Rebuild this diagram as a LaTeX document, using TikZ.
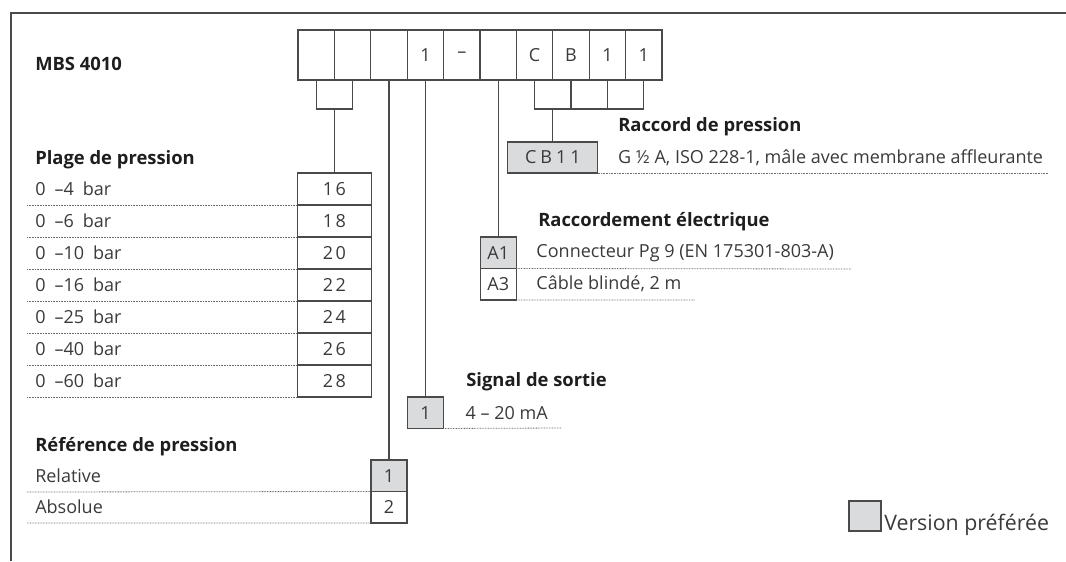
\documentclass[tikz,border=0pt]{standalone}
\usepackage{fontspec}
\setmainfont{Open Sans}
\usetikzlibrary{positioning,calc}
\definecolor{linecol}{HTML}{4A4A4A}
\definecolor{txtgray}{HTML}{3A3A3A}
\definecolor{headcol}{HTML}{1E1E1E}
\definecolor{prefcol}{HTML}{DADBDD}
\definecolor{rulecol}{HTML}{6A6A6A}

\begin{document}
\begin{tikzpicture}[
    x=0.75pt, y=-0.75pt,
    every node/.style={font=\fontsize{13.5}{16}\selectfont, text=txtgray},
    heading/.style={anchor=west, inner sep=0pt, font=\fontsize{13.8}{16}\selectfont\bfseries, text=headcol},
    optext/.style={anchor=west, inner sep=0pt},
    codebox/.style={rectangle, draw=linecol, line width=0.9pt, minimum width=27.3pt, minimum height=37.5pt, inner sep=0pt, outer sep=0pt},
    subbox/.style={rectangle, draw=linecol, line width=0.9pt, minimum width=27.2pt, minimum height=21.75pt, inner sep=0pt, outer sep=0pt},
    valbox/.style={rectangle, draw=linecol, line width=0.9pt, minimum width=55.5pt, minimum height=24pt, inner sep=0pt, outer sep=0pt},
    keybox/.style={rectangle, draw=linecol, line width=0.9pt, minimum width=27pt, minimum height=23.6pt, inner sep=0pt, outer sep=0pt},
    widebox/.style={keybox, minimum width=67.5pt, minimum height=23.25pt},
    pref/.style={fill=prefcol},
    link/.style={draw=linecol, line width=0.9pt},
    rule/.style={draw=rulecol, line width=0.6pt, dash pattern=on 0.6pt off 0.6pt},
    frame/.style={draw=linecol, line width=1.1pt}
]
    \useasboundingbox (0,0) rectangle (1066,561);
    \draw[frame] (11,561) -- (11,13) -- (1066,13);

    % type code
    \node[heading] (model) at (35,64) {MBS 4010};
    \node[codebox] (c1) at (316.2,55) {};
    \node[codebox, right=0pt of c1] (c2) {};
    \node[codebox, right=0pt of c2] (c3) {};
    \node[codebox, right=0pt of c3] (c4) {1};
    \node[codebox, right=0pt of c4] (c5) {–};
    \node[codebox, right=0pt of c5] (c6) {};
    \node[codebox, right=0pt of c6] (c7) {C};
    \node[codebox, right=0pt of c7] (c8) {B};
    \node[codebox, right=0pt of c8] (c9) {1};
    \node[codebox, right=0pt of c9] (c10) {1};

    \node[subbox, below=0pt of c1.south east] (s1) {};
    \node[subbox, below=0pt of c7.south east] (t1) {};
    \node[subbox, right=0pt of t1] (t2) {};
    \node[subbox, right=0pt of t2] (t3) {};

    % pressure range
    \node[heading] (rangehead) at (35,160) {Plage de pression};
    \node[valbox, below=48pt of s1] (pv1) {1\hspace{2pt}6};
    \node[valbox, below=0pt of pv1] (pv2) {1\hspace{2pt}8};
    \node[valbox, below=0pt of pv2] (pv3) {2\hspace{2pt}0};
    \node[valbox, below=0pt of pv3] (pv4) {2\hspace{2pt}2};
    \node[valbox, below=0pt of pv4] (pv5) {2\hspace{2pt}4};
    \node[valbox, below=0pt of pv5] (pv6) {2\hspace{2pt}6};
    \node[valbox, below=0pt of pv6] (pv7) {2\hspace{2pt}8};
    \node[optext] (pl1) at (35,189) {0\enspace–4\enspace bar};
    \node[optext] (pl2) at (35,221) {0\enspace–6\enspace bar};
    \node[optext] (pl3) at (35,253) {0\enspace–10\enspace bar};
    \node[optext] (pl4) at (35,285) {0\enspace–16\enspace bar};
    \node[optext] (pl5) at (35,317) {0\enspace–25\enspace bar};
    \node[optext] (pl6) at (35,349) {0\enspace–40\enspace bar};
    \node[optext] (pl7) at (35,381) {0\enspace–60\enspace bar};
    \draw[rule] (27,205) -- (pv1.south west);
    \draw[rule] (27,237) -- (pv2.south west);
    \draw[rule] (27,269) -- (pv3.south west);
    \draw[rule] (27,301) -- (pv4.south west);
    \draw[rule] (27,333) -- (pv5.south west);
    \draw[rule] (27,365) -- (pv6.south west);
    \draw[rule] (27,397) -- (pv7.south west);

    % pressure reference
    \node[heading] (refhead) at (35,447) {Référence de pression};
    \node[keybox, pref, below=285pt of c3] (ref1) {1};
    \node[keybox, below=0pt of ref1] (ref2) {2};
    \node[optext] (rl1) at (35,476) {Relative};
    \node[optext] (rl2) at (35,507) {Absolue};
    \draw[rule] (27,492) -- (ref1.south west);
    \draw[rule] (27,523) -- (ref2.south west);

    % output signal
    \node[keybox, pref, below=237.75pt of c4] (sig) {1};
    \node[optext, right=16.5pt of sig] (sigtxt) {4 – 20 mA};
    \node[heading] (sighead) at (466,382) {Signal de sortie};
    \draw[rule] (sig.south east) -- (561,428);

    % electrical connection
    \node[keybox, pref, below=117.75pt of c6] (ka1) {A1};
    \node[keybox, below=0pt of ka1] (ka3) {A3};
    \node[optext, right=15pt of ka1] (katxt1) {Connecteur Pg 9 (EN 175301-803-A)};
    \node[optext, right=15pt of ka3] (katxt3) {Câble blindé, 2 m};
    \node[heading] (elhead) at (538,222) {Raccordement électrique};
    \draw[rule] (ka1.south east) -- (852,269);
    \draw[rule] (ka3.south east) -- (695,300);

    % process connection
    \node[widebox, pref, below=24.75pt of t1] (cb) {C\hspace{3pt}B\hspace{3pt}1\hspace{3pt}1};
    \node[optext, right=15pt of cb] (cbtxt) {G ½ A, ISO 228-1, mâle avec membrane affleurante};
    \node[heading] (cbhead) at (618,127) {Raccord de pression};
    \draw[rule] (cb.south east) -- (1048,173);

    % connectors
    \draw[link] (s1) -- (pv1);
    \draw[link] (c3) -- (ref1);
    \draw[link] (c4) -- (sig);
    \draw[link] (c6) -- (ka1);
    \draw[link] (t1) -- (cb);

    % legend
    \node[keybox, pref, minimum width=24pt, minimum height=22.5pt] (legbox) at (865,516) {};
    \node[anchor=base west, inner sep=0pt, font=\fontsize{16}{19}\selectfont] (legtxt) at (884,530) {Version préférée};
\end{tikzpicture}
\end{document}
